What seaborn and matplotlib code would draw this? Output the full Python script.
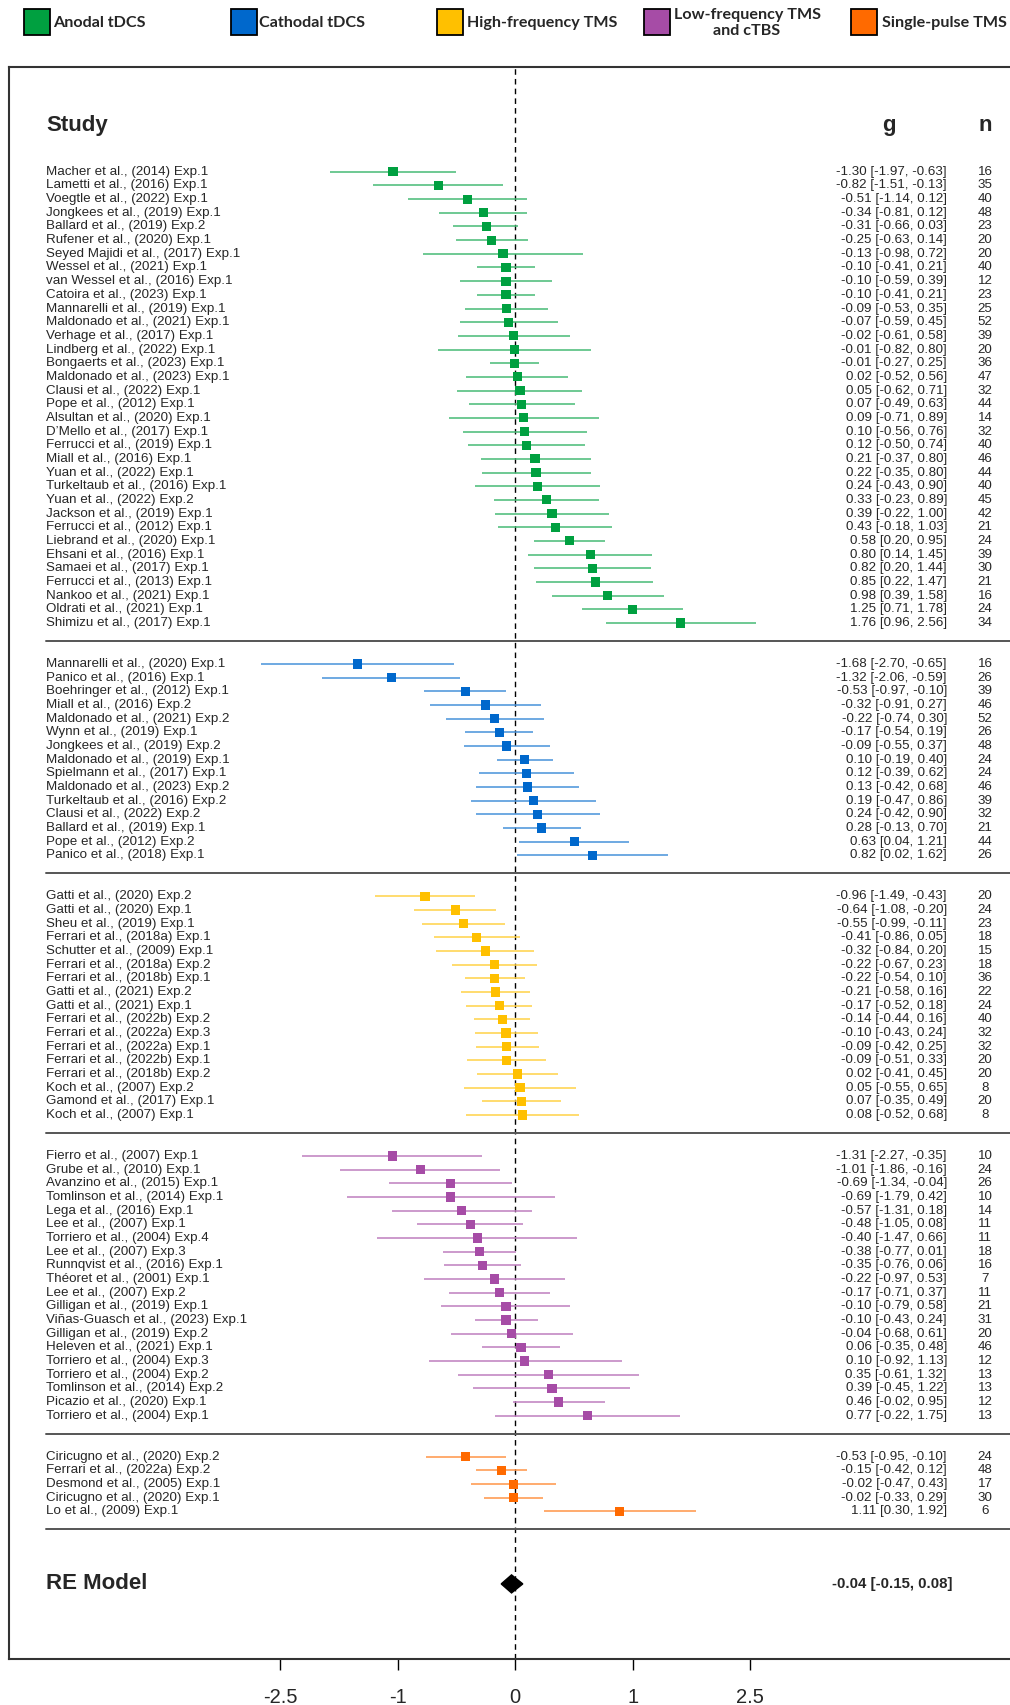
import numpy as np
import pandas as pd
import matplotlib
matplotlib.use("Agg")
import matplotlib.pyplot as plt
import matplotlib.colors as mcolors
from matplotlib.patches import Rectangle
import seaborn as sns

# ---------------- data ----------------
groups = ["Anodal tDCS", "Cathodal tDCS", "High-frequency TMS",
          "Low-frequency TMS\nand cTBS", "Single-pulse TMS"]
group_colors = ["#00A040", "#0068CC", "#FFC000", "#A64CA6", "#FF6A00"]

anodal_study = ["Macher et al., (2014) Exp.1", "Lametti et al., (2016) Exp.1",
                "Voegtle et al., (2022) Exp.1", "Jongkees et al., (2019) Exp.1",
                "Ballard et al., (2019) Exp.2", "Rufener et al., (2020) Exp.1",
                "Seyed Majidi et al., (2017) Exp.1", "Wessel et al., (2021) Exp.1",
                "van Wessel et al., (2016) Exp.1", "Catoira et al., (2023) Exp.1",
                "Mannarelli et al., (2019) Exp.1", "Maldonado et al., (2021) Exp.1",
                "Verhage et al., (2017) Exp.1", "Lindberg et al., (2022) Exp.1",
                "Bongaerts et al., (2023) Exp.1", "Maldonado et al., (2023) Exp.1",
                "Clausi et al., (2022) Exp.1", "Pope et al., (2012) Exp.1",
                "Alsultan et al., (2020) Exp.1", "D\u2019Mello et al., (2017) Exp.1",
                "Ferrucci et al., (2019) Exp.1", "Miall et al., (2016) Exp.1",
                "Yuan et al., (2022) Exp.1", "Turkeltaub et al., (2016) Exp.1",
                "Yuan et al., (2022) Exp.2", "Jackson et al., (2019) Exp.1",
                "Ferrucci et al., (2012) Exp.1", "Liebrand et al., (2020) Exp.1",
                "Ehsani et al., (2016) Exp.1", "Samaei et al., (2017) Exp.1",
                "Ferrucci et al., (2013) Exp.1", "Nankoo et al., (2021) Exp.1",
                "Oldrati et al., (2021) Exp.1", "Shimizu et al., (2017) Exp.1"]
anodal_g = [-1.30, -0.82, -0.51, -0.34, -0.31, -0.25, -0.13, -0.10, -0.10, -0.10,
            -0.09, -0.07, -0.02, -0.01, -0.01, 0.02, 0.05, 0.07, 0.09, 0.10,
            0.12, 0.21, 0.22, 0.24, 0.33, 0.39, 0.43, 0.58, 0.80, 0.82,
            0.85, 0.98, 1.25, 1.76]
anodal_lo = [-1.97, -1.51, -1.14, -0.81, -0.66, -0.63, -0.98, -0.41, -0.59, -0.41,
             -0.53, -0.59, -0.61, -0.82, -0.27, -0.52, -0.62, -0.49, -0.71, -0.56,
             -0.50, -0.37, -0.35, -0.43, -0.23, -0.22, -0.18, 0.20, 0.14, 0.20,
             0.22, 0.39, 0.71, 0.96]
anodal_hi = [-0.63, -0.13, 0.12, 0.12, 0.03, 0.14, 0.72, 0.21, 0.39, 0.21,
             0.35, 0.45, 0.58, 0.80, 0.25, 0.56, 0.71, 0.63, 0.89, 0.76,
             0.74, 0.80, 0.80, 0.90, 0.89, 1.00, 1.03, 0.95, 1.45, 1.44,
             1.47, 1.58, 1.78, 2.56]
anodal_n = [16, 35, 40, 48, 23, 20, 20, 40, 12, 23, 25, 52, 39, 20, 36, 47, 32,
            44, 14, 32, 40, 46, 44, 40, 45, 42, 21, 24, 39, 30, 21, 16, 24, 34]

cathodal_study = ["Mannarelli et al., (2020) Exp.1", "Panico et al., (2016) Exp.1",
                  "Boehringer et al., (2012) Exp.1", "Miall et al., (2016) Exp.2",
                  "Maldonado et al., (2021) Exp.2", "Wynn et al., (2019) Exp.1",
                  "Jongkees et al., (2019) Exp.2", "Maldonado et al., (2019) Exp.1",
                  "Spielmann et al., (2017) Exp.1", "Maldonado et al., (2023) Exp.2",
                  "Turkeltaub et al., (2016) Exp.2", "Clausi et al., (2022) Exp.2",
                  "Ballard et al., (2019) Exp.1", "Pope et al., (2012) Exp.2",
                  "Panico et al., (2018) Exp.1"]
cathodal_g = [-1.68, -1.32, -0.53, -0.32, -0.22, -0.17, -0.09, 0.10, 0.12, 0.13,
              0.19, 0.24, 0.28, 0.63, 0.82]
cathodal_lo = [-2.70, -2.06, -0.97, -0.91, -0.74, -0.54, -0.55, -0.19, -0.39, -0.42,
               -0.47, -0.42, -0.13, 0.04, 0.02]
cathodal_hi = [-0.65, -0.59, -0.10, 0.27, 0.30, 0.19, 0.37, 0.40, 0.62, 0.68,
               0.86, 0.90, 0.70, 1.21, 1.62]
cathodal_n = [16, 26, 39, 46, 52, 26, 48, 24, 24, 46, 39, 32, 21, 44, 26]

hf_study = ["Gatti et al., (2020) Exp.2", "Gatti et al., (2020) Exp.1",
            "Sheu et al., (2019) Exp.1", "Ferrari et al., (2018a) Exp.1",
            "Schutter et al., (2009) Exp.1", "Ferrari et al., (2018a) Exp.2",
            "Ferrari et al., (2018b) Exp.1", "Gatti et al., (2021) Exp.2",
            "Gatti et al., (2021) Exp.1", "Ferrari et al., (2022b) Exp.2",
            "Ferrari et al., (2022a) Exp.3", "Ferrari et al., (2022a) Exp.1",
            "Ferrari et al., (2022b) Exp.1", "Ferrari et al., (2018b) Exp.2",
            "Koch et al., (2007) Exp.2", "Gamond et al., (2017) Exp.1",
            "Koch et al., (2007) Exp.1"]
hf_g = [-0.96, -0.64, -0.55, -0.41, -0.32, -0.22, -0.22, -0.21, -0.17, -0.14,
        -0.10, -0.09, -0.09, 0.02, 0.05, 0.07, 0.08]
hf_lo = [-1.49, -1.08, -0.99, -0.86, -0.84, -0.67, -0.54, -0.58, -0.52, -0.44,
         -0.43, -0.42, -0.51, -0.41, -0.55, -0.35, -0.52]
hf_hi = [-0.43, -0.20, -0.11, 0.05, 0.20, 0.23, 0.10, 0.16, 0.18, 0.16,
         0.24, 0.25, 0.33, 0.45, 0.65, 0.49, 0.68]
hf_n = [20, 24, 23, 18, 15, 18, 36, 22, 24, 40, 32, 32, 20, 20, 8, 20, 8]

lf_study = ["Fierro et al., (2007) Exp.1", "Grube et al., (2010) Exp.1",
            "Avanzino et al., (2015) Exp.1", "Tomlinson et al., (2014) Exp.1",
            "Lega et al., (2016) Exp.1", "Lee et al., (2007) Exp.1",
            "Torriero et al., (2004) Exp.4", "Lee et al., (2007) Exp.3",
            "Runnqvist et al., (2016) Exp.1", "Th\u00e9oret et al., (2001) Exp.1",
            "Lee et al., (2007) Exp.2", "Gilligan et al., (2019) Exp.1",
            "Vi\u00f1as-Guasch et al., (2023) Exp.1", "Gilligan et al., (2019) Exp.2",
            "Heleven et al., (2021) Exp.1", "Torriero et al., (2004) Exp.3",
            "Torriero et al., (2004) Exp.2", "Tomlinson et al., (2014) Exp.2",
            "Picazio et al., (2020) Exp.1", "Torriero et al., (2004) Exp.1"]
lf_g = [-1.31, -1.01, -0.69, -0.69, -0.57, -0.48, -0.40, -0.38, -0.35, -0.22,
        -0.17, -0.10, -0.10, -0.04, 0.06, 0.10, 0.35, 0.39, 0.46, 0.77]
lf_lo = [-2.27, -1.86, -1.34, -1.79, -1.31, -1.05, -1.47, -0.77, -0.76, -0.97,
         -0.71, -0.79, -0.43, -0.68, -0.35, -0.92, -0.61, -0.45, -0.02, -0.22]
lf_hi = [-0.35, -0.16, -0.04, 0.42, 0.18, 0.08, 0.66, 0.01, 0.06, 0.53,
         0.37, 0.58, 0.24, 0.61, 0.48, 1.13, 1.32, 1.22, 0.95, 1.75]
lf_n = [10, 24, 26, 10, 14, 11, 11, 18, 16, 7, 11, 21, 31, 20, 46, 12, 13, 13, 12, 13]

sp_study = ["Ciricugno et al., (2020) Exp.2", "Ferrari et al., (2022a) Exp.2",
            "Desmond et al., (2005) Exp.1", "Ciricugno et al., (2020) Exp.1",
            "Lo et al., (2009) Exp.1"]
sp_g = [-0.53, -0.15, -0.02, -0.02, 1.11]
sp_lo = [-0.95, -0.42, -0.47, -0.33, 0.30]
sp_hi = [-0.10, 0.12, 0.43, 0.29, 1.92]
sp_n = [24, 48, 17, 30, 6]

re_g, re_lo, re_hi = -0.04, -0.15, 0.08

tick_pos = [-2.5, -1.25, 0, 1.25, 2.5]
tick_labels = ["-2.5", "-1", "0", "1", "2.5"]

# ---------------- table ----------------
parts = [(anodal_study, anodal_g, anodal_lo, anodal_hi, anodal_n),
         (cathodal_study, cathodal_g, cathodal_lo, cathodal_hi, cathodal_n),
         (hf_study, hf_g, hf_lo, hf_hi, hf_n),
         (lf_study, lf_g, lf_lo, lf_hi, lf_n),
         (sp_study, sp_g, sp_lo, sp_hi, sp_n)]

frames = []
seps = []
start = 0
for grp, (st, g, lo, hi, n) in zip(groups, parts):
    d = pd.DataFrame({"study": st, "g": g, "lo": lo, "hi": hi, "n": n})
    d["group"] = grp
    d["row"] = start + np.arange(len(d))
    frames.append(d)
    last = start + len(d) - 1
    seps.append(last + 1.3)
    start = last + 3
df = pd.concat(frames, ignore_index=True)
re_row = seps[-1] + 4.0

# ---------------- figure ----------------
W, H = 1010, 1705
sns.set_theme(style="white")
plt.rcParams["font.family"] = ["Liberation Sans", "DejaVu Sans"]

fig = plt.figure(figsize=(W / 100, H / 100), dpi=100)

box_l, box_t, box_b = 9, 67, 1659
ax = fig.add_axes([box_l / W, 1 - box_b / H, (1030 - box_l) / W, (box_b - box_t) / H])

x0_px, unit_px = 515.3, 94.0  # pixel of g=0, pixels per unit
def px2x(px):
    return (px - x0_px) / unit_px

row0_px, row_px = 171.8, 13.67
def px2r(py):
    return (py - row0_px) / row_px

ax.set_xlim(px2x(box_l), px2x(1030))
ax.set_ylim(px2r(box_b), px2r(box_t))

palette = dict(zip(groups, group_colors))
light = {k: mcolors.to_hex(0.72 * np.array(mcolors.to_rgb(c)) + 0.28) for k, c in palette.items()}

# CI lines
ax.hlines(df["row"], df["lo"], df["hi"], colors=df["group"].map(light), lw=1.1, zorder=2)
# squares
sns.scatterplot(data=df, x="g", y="row", hue="group", palette=palette, marker="s",
                s=44, linewidth=0, legend=False, ax=ax, zorder=3)

# zero line
ax.axvline(0, color="black", lw=1.0, ls=(0, (4, 3)), zorder=1)

# group separators
for s in seps:
    ax.plot([px2x(46), px2x(1030)], [s, s], color="#555555", lw=1.4, zorder=1)

# summary diamond
h = 0.66
ax.fill([re_lo, re_g, re_hi, re_g], [re_row, re_row - h, re_row, re_row + h],
        color="black", zorder=4)

# text columns
xl, xg, xn = px2x(46), px2x(947), px2x(985)
for _, r in df.iterrows():
    ax.text(xl, r["row"], r["study"], ha="left", va="center", fontsize=9.6)
    ax.text(xg, r["row"], f"{r['g']:.2f} [{r['lo']:.2f}, {r['hi']:.2f}]",
            ha="right", va="center", fontsize=9.6)
    ax.text(xn, r["row"], f"{int(r['n'])}", ha="center", va="center", fontsize=9.6)

hdr = px2r(125)
ax.text(xl, hdr, "Study", ha="left", va="center", fontsize=16, fontweight="bold")
ax.text(px2x(889), hdr, "g", ha="center", va="center", fontsize=16, fontweight="bold")
ax.text(xn, hdr, "n", ha="center", va="center", fontsize=16, fontweight="bold")
ax.text(xl, re_row, "RE Model", ha="left", va="center", fontsize=16, fontweight="bold")
ax.text(px2x(953), re_row, f"{re_g:.2f} [{re_lo:.2f}, {re_hi:.2f}]",
        ha="right", va="center", fontsize=10.8, fontweight="bold")

# axes frame and ticks
for side in ["left", "top", "bottom"]:
    ax.spines[side].set_visible(True)
    ax.spines[side].set_color("#333333")
    ax.spines[side].set_linewidth(1.5)
ax.spines["right"].set_visible(False)
ax.set_yticks([])
ax.set_xticks(tick_pos)
ax.set_xticklabels(tick_labels)
ax.tick_params(axis="x", bottom=True, direction="out", length=8, width=1.0,
               color="black", pad=13, labelsize=14.5)
ax.set_xlabel("")
ax.set_ylabel("")

# legend across the top
leg_font = ["Lato", "DejaVu Sans"]
leg_sq = [24, 231, 437, 644, 851]
leg_tx = [53, 259, 467, 747, 882]
for grp, col, sx, tx in zip(groups, group_colors, leg_sq, leg_tx):
    fig.patches.append(Rectangle((sx / W, 1 - 35 / H), 26 / W, 26 / H,
                                 transform=fig.transFigure, facecolor=col,
                                 edgecolor="black", lw=1.3))
    if "\n" in grp:
        fig.text(tx / W, 1 - 23 / H, grp, ha="center", va="center", fontsize=11.6,
                 fontweight="bold", family=leg_font, linespacing=1.25,
                 multialignment="center")
    else:
        fig.text(tx / W, 1 - 23 / H, grp, ha="left", va="center", fontsize=11.6,
                 fontweight="bold", family=leg_font)

fig.savefig("out.png", dpi=100)
